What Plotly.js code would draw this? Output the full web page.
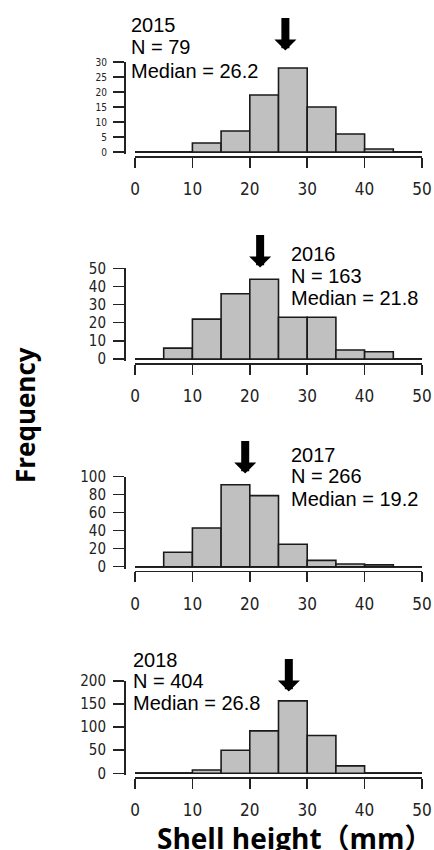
<!DOCTYPE html>
<html>
<head>
<meta charset="utf-8">
<script src="https://cdn.plot.ly/plotly-3.0.1.min.js"></script>
<style>html,body{margin:0;padding:0;background:#fff;}#chart{width:434px;height:850px;}</style>
</head>
<body>
<div id="chart"></div>
<script>
// ---- data ----
const binEdges = [0, 5, 10, 15, 20, 25, 30, 35, 40, 45, 50];
const years = ['2015', '2016', '2017', '2018'];
const sampleN = [79, 163, 266, 404];
const medians = [26.2, 21.8, 19.2, 26.8];
const counts2015 = [0, 0, 3, 7, 19, 28, 15, 6, 1, 0];
const counts2016 = [0, 6, 22, 36, 44, 23, 23, 5, 4, 0];
const counts2017 = [0, 16, 43, 91, 79, 25, 7, 3, 2, 0];
const counts2018 = [0, 0, 7, 50, 92, 157, 82, 16, 0, 0];
const yAxisMax = [30, 50, 100, 200];
const yTickStep = [5, 10, 20, 50];
const xTickValues = [0, 10, 20, 30, 40, 50];
const xTitle = 'Shell height（mm）';
const yTitle = 'Frequency';

// ---- layout geometry (pixels) ----
const W = 434, H = 850;
const panelZeroPx = [152, 359, 566.7, 773.3];
const panelTopPx = [62, 268.3, 476.7, 681];
const arrowTipPx = [50.5, 267.5, 473.5, 691.5];
const textLeftPx = [129, 289, 289, 130.5];
const textBaselinePx = [[32, 54.3, 78.3], [260.7, 283.3, 305], [461.7, 483.3, 506], [666.7, 688.3, 710]];
const xLeftPx = 135, xRightPx = 422, yAxisPx = 124;

const allCounts = [counts2015, counts2016, counts2017, counts2018];
const centers = binEdges.slice(0, -1).map((e, i) => (e + binEdges[i + 1]) / 2);
const widths = binEdges.slice(0, -1).map((e, i) => binEdges[i + 1] - e);
const py = p => 1 - p / H;
const px = p => p / W;

const tickFont = {family: '"Liberation Sans Narrow", "Arial Narrow", "DejaVu Sans Condensed", sans-serif', color: '#222'};
const textFont = {family: '"Liberation Sans", Arial, sans-serif', size: 20, color: '#000'};

const traces = [];
const layout = {
  width: W, height: H,
  margin: {l: 0, r: 0, t: 0, b: 0},
  paper_bgcolor: '#fff', plot_bgcolor: 'rgba(0,0,0,0)',
  showlegend: false, bargap: 0,
  annotations: [], shapes: []
};

allCounts.forEach((cnt, i) => {
  const k = i + 1;
  const xa = 'xaxis' + (k === 1 ? '' : k), ya = 'yaxis' + (k === 1 ? '' : k);
  const xr = 'x' + (k === 1 ? '' : k), yr = 'y' + (k === 1 ? '' : k);
  const Z = panelZeroPx[i], T = panelTopPx[i];
  const pxPerUnit = (Z - T) / yAxisMax[i];
  const lo = -2 / pxPerUnit;
  traces.push({
    type: 'bar', x: centers, y: cnt, width: widths,
    xaxis: xr, yaxis: yr,
    marker: {color: '#c0c0c0', line: {color: '#1a1a1a', width: 1.6}},
    hoverinfo: 'skip'
  });
  layout[xa] = {
    domain: [px(xLeftPx), px(xRightPx)], range: [0, 50],
    anchor: 'free', position: py(Z + 4),
    tickvals: xTickValues, ticks: 'outside', ticklen: 10, tickwidth: 1.5, tickcolor: '#222',
    showline: true, linecolor: '#222', linewidth: 1.5,
    showgrid: false, zeroline: false,
    tickfont: Object.assign({size: 17}, tickFont), ticklabelstandoff: 7
  };
  layout[ya] = {
    domain: [py(Z + 2), py(T)], range: [lo, yAxisMax[i]],
    anchor: 'free', position: px(yAxisPx),
    tick0: 0, dtick: yTickStep[i], ticks: 'outside', ticklen: 11, tickwidth: 1.5, tickcolor: '#222',
    showline: true, linecolor: '#222', linewidth: 1.5,
    showgrid: false, zeroline: true, zerolinecolor: '#333', zerolinewidth: 1.6,
    tickfont: Object.assign({size: i === 0 ? 10 : 15}, tickFont), ticklabelstandoff: 4
  };
  // median arrow
  layout.annotations.push({
    xref: xr, yref: 'paper', x: medians[i], y: py(arrowTipPx[i]),
    text: '', showarrow: true, ax: 0, ay: -34,
    arrowhead: 1, arrowwidth: 8, arrowsize: 0.46, arrowcolor: '#000'
  });
  // label lines
  const lines = [years[i], 'N = ' + sampleN[i], 'Median = ' + medians[i].toFixed(1)];
  lines.forEach((t, j) => {
    layout.annotations.push({
      xref: 'paper', yref: 'paper', x: px(textLeftPx[i]), y: py(textBaselinePx[i][j] - 7),
      xanchor: 'left', yanchor: 'middle', text: t, showarrow: false, font: textFont
    });
  });
});

layout.annotations.push({
  xref: 'paper', yref: 'paper', x: px(25), y: py(415), xanchor: 'center', yanchor: 'middle',
  text: '<b>' + yTitle + '</b>', textangle: -90, showarrow: false,
  font: {family: '"Open Sans", "Noto Sans", sans-serif', size: 26, color: '#000'}
});
layout.annotations.push({
  xref: 'paper', yref: 'paper', x: px(295), y: 0, xanchor: 'center', yanchor: 'bottom', yshift: -9,
  text: '<b>' + xTitle + '</b>', showarrow: false,
  font: {family: '"Open Sans", "Noto Sans CJK JP", sans-serif', size: 28, color: '#000'}
});

Plotly.newPlot('chart', traces, layout, {displayModeBar: false, staticPlot: true});
</script>
</body>
</html>
